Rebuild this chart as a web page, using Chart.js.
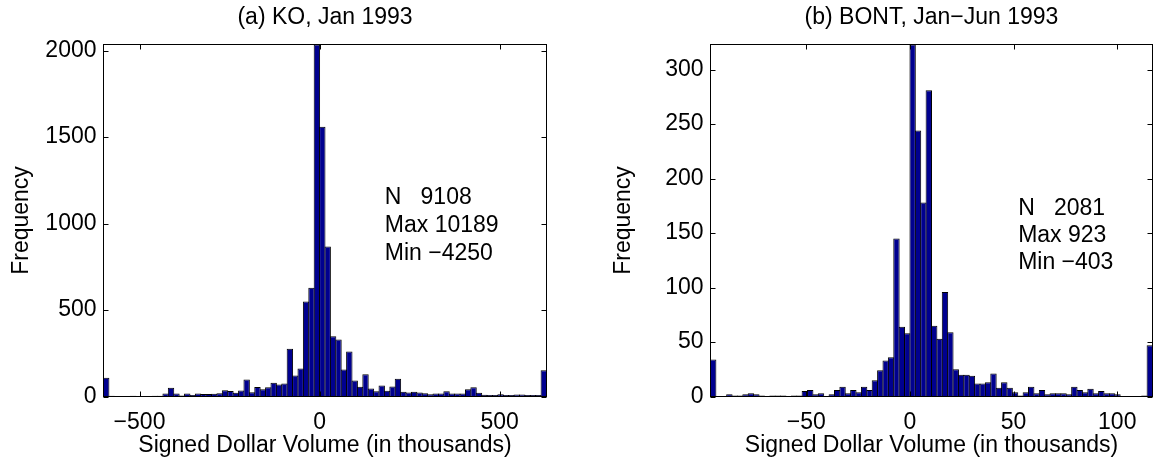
<!DOCTYPE html>
<html>
<head>
<meta charset="utf-8">
<script src="https://cdn.jsdelivr.net/npm/chart.js@4/dist/chart.umd.min.js"></script>
<style>
  html, body { margin: 0; padding: 0; background: #fff; }
  #wrap { position: relative; width: 1154px; height: 466px; overflow: hidden; background: #fff; }
  #wrap canvas { position: absolute; top: 0; }
</style>
</head>
<body>
<div id="wrap">
  <canvas id="ko" width="577" height="466" style="left:0"></canvas>
  <canvas id="bont" width="577" height="466" style="left:577px"></canvas>
</div>
<script>
// ---- KO, Jan 1993: 82 bins of 15 (thousand $), from -600 to 630; outliers folded into the end bins
const koCounts = [
  108, 4, 2, 3, 2, 4, 2, 3, 2, 4, 5,
  18, 50, 18, 6, 18, 9, 17, 14, 14, 16, 19,
  36, 32, 22, 35, 98, 25, 55, 42, 53, 79, 69, 75,
  276, 122, 162, 549, 628, 2035, 1559, 867,
  349, 330, 156, 260, 92, 56, 129, 46, 31, 64, 33, 58, 102,
  27, 23, 27, 23, 19, 13, 17, 17, 31, 17, 17, 17, 42, 54, 21, 10,
  8, 8, 13, 8, 8, 12, 12, 8, 8, 8, 152
];
const koBinStart = -600;
const koBinWidth = 15;
const koYMax = 2035;
const koXTicks = [-500, 0, 500];
const koYTicks = [0, 500, 1000, 1500, 2000];
const koStats = ['N   9108', 'Max 10189', 'Min \u22124250'];

// ---- BONT, Jan-Jun 1993: 82 bins of 2.6 (thousand $), from -96.2 to 117
const bontCounts = [
  34, 0, 0, 2, 1, 1, 2, 3, 2, 1, 0, 1, 1, 1, 0, 1, 1,
  5, 6, 2, 3, 0, 2, 6, 9, 3, 6, 4, 9, 6,
  15, 24, 33, 36, 145, 64, 58, 323, 244, 178, 281,
  65, 53, 96, 59, 25, 20, 20, 19, 12, 12, 13, 21, 8, 13, 8,
  4, 1, 4, 9, 3, 6, 2, 3, 3, 3, 2, 9, 6, 4, 7, 3, 5, 3, 3, 2,
  0, 0, 0, 0, 1, 47
];
const bontBinStart = -96.2;
const bontBinWidth = 2.6;
const bontYMax = 323;
const bontXTicks = [-50, 0, 50, 100];
const bontYTicks = [0, 50, 100, 150, 200, 250, 300];
const bontStats = ['N   2081', 'Max 923', 'Min \u2212403'];

const FONT = "'Liberation Sans', Arial, Helvetica, sans-serif";
const FONT_SIZE = 23;
const BAR_FILL = '#00008f';
const TICK_LEN = 5;

Chart.defaults.font.family = FONT;
Chart.defaults.font.size = FONT_SIZE;
Chart.defaults.color = '#000';

const fmt = v => (v < 0 ? '\u2212' + Math.abs(v) : String(v));

// Full axes box with inward tick marks on all four sides
const axesBox = {
  id: 'axesBox',
  afterDatasetsDraw(chart) {
    const { ctx, chartArea: a, scales: { x, y } } = chart;
    ctx.save();
    ctx.strokeStyle = '#000';
    ctx.lineWidth = 1;
    ctx.strokeRect(a.left, a.top, a.right - a.left, a.bottom - a.top);
    ctx.beginPath();
    x.ticks.forEach(t => {
      const px = Math.round(x.getPixelForValue(t.value)) + 0.5;
      ctx.moveTo(px, a.bottom); ctx.lineTo(px, a.bottom - TICK_LEN);
      ctx.moveTo(px, a.top); ctx.lineTo(px, a.top + TICK_LEN);
    });
    y.ticks.forEach(t => {
      const py = Math.round(y.getPixelForValue(t.value)) + 0.5;
      ctx.moveTo(a.left, py); ctx.lineTo(a.left + TICK_LEN, py);
      ctx.moveTo(a.right, py); ctx.lineTo(a.right - TICK_LEN, py);
    });
    ctx.stroke();
    ctx.restore();
  }
};

// Summary statistics block, anchored in data coordinates
const statsText = {
  id: 'statsText',
  afterDatasetsDraw(chart, args, opts) {
    const { ctx, scales: { x, y } } = chart;
    const px = x.getPixelForValue(opts.x);
    const py = y.getPixelForValue(opts.y);
    ctx.save();
    ctx.font = FONT_SIZE + 'px ' + FONT;
    ctx.fillStyle = '#000';
    ctx.textAlign = 'left';
    ctx.textBaseline = 'alphabetic';
    opts.lines.forEach((s, i) => ctx.fillText(s, px, py + i * opts.step));
    ctx.restore();
  }
};

function histogram(id, p) {
  const points = p.counts.map((c, i) => ({ x: p.binStart + (i + 0.5) * p.binWidth, y: c }));
  const xMax = p.binStart + p.counts.length * p.binWidth;
  return new Chart(document.getElementById(id), {
    type: 'bar',
    data: {
      datasets: [{
        data: points,
        backgroundColor: BAR_FILL,
        borderColor: '#000',
        borderWidth: { top: 1, left: 1, right: 1, bottom: 0 },
        // bars overlap by one edge width so neighbours share a single outline
        barPercentage: 1.185,
        categoryPercentage: 1,
        inflateAmount: 0
      }]
    },
    options: {
      responsive: false,
      animation: false,
      events: [],
      layout: { padding: { left: 0, right: p.padRight, top: 0, bottom: 0 } },
      plugins: {
        legend: { display: false },
        tooltip: { enabled: false },
        title: {
          display: true,
          text: p.title,
          fullSize: false,
          color: '#000',
          font: { family: FONT, size: FONT_SIZE, weight: 'normal' },
          padding: { top: 4, bottom: 12.9 }
        },
        statsText: { lines: p.stats, x: p.statsX, y: p.statsY, step: p.statsStep }
      },
      scales: {
        x: {
          type: 'linear',
          min: p.binStart,
          max: xMax,
          offset: false,
          grid: { display: false, drawTicks: false },
          border: { display: false },
          ticks: { padding: 12.4, maxRotation: 0, callback: fmt, font: { size: FONT_SIZE } },
          title: {
            display: true,
            text: 'Signed Dollar Volume (in thousands)',
            font: { size: FONT_SIZE },
            padding: { top: 0, bottom: 6.7 }
          },
          afterBuildTicks: s => { s.ticks = p.xTicks.map(v => ({ value: v })); },
          afterFit: s => { s.height = 69.5; }
        },
        y: {
          min: 0,
          max: p.yMax,
          grid: { display: false, drawTicks: false },
          border: { display: false },
          ticks: { padding: 7, callback: fmt, font: { size: FONT_SIZE } },
          title: {
            display: true,
            text: 'Frequency',
            font: { size: FONT_SIZE },
            padding: { top: p.yTitlePad, bottom: 0 }
          },
          afterBuildTicks: s => { s.ticks = p.yTicks.map(v => ({ value: v })); },
          afterFit: s => { s.width = p.yAxisWidth; }
        }
      }
    },
    plugins: [axesBox, statsText]
  });
}

histogram('ko', {
  title: '(a) KO, Jan 1993',
  counts: koCounts, binStart: koBinStart, binWidth: koBinWidth, yMax: koYMax,
  xTicks: koXTicks, yTicks: koYTicks,
  stats: koStats, statsX: 181, statsY: 1113, statsStep: 28.2,
  yAxisWidth: 103.5, yTitlePad: 8, padRight: 30.5
});

histogram('bont', {
  title: '(b) BONT, Jan\u2212Jun 1993',
  counts: bontCounts, binStart: bontBinStart, binWidth: bontBinWidth, yMax: bontYMax,
  xTicks: bontXTicks, yTicks: bontYTicks,
  stats: bontStats, statsX: 52.2, statsY: 167, statsStep: 27,
  yAxisWidth: 133.5, yTitlePad: 33, padRight: 1.5
});
</script>
</body>
</html>
